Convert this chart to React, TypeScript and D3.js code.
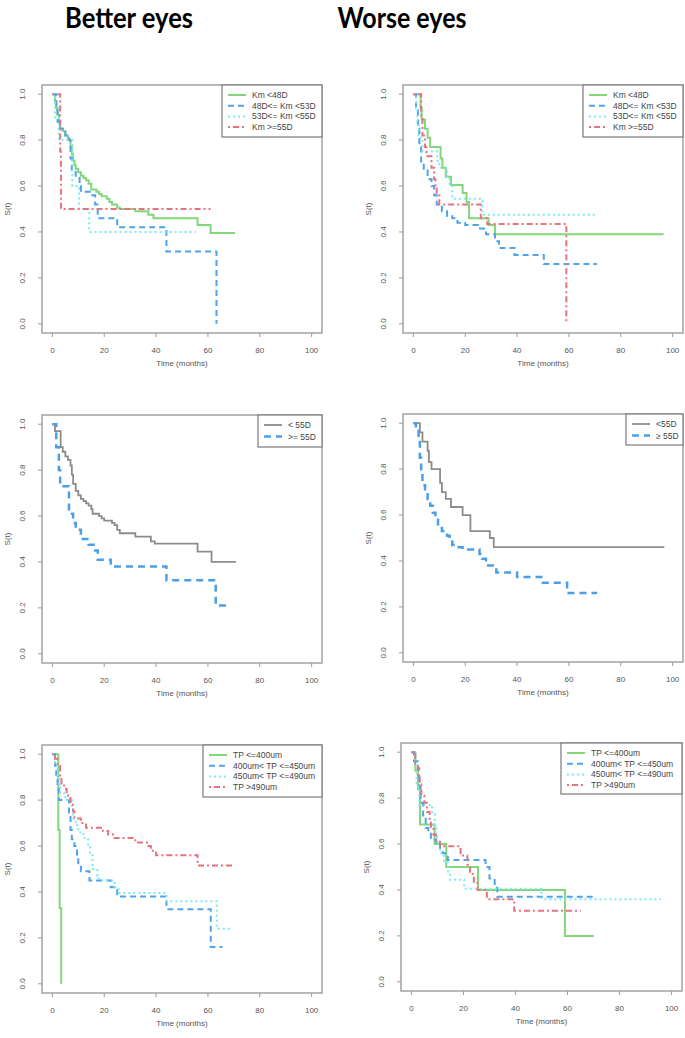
import React from "react";
import * as d3 from "d3";

type Pt = [number, number];

// step points [month, S(t)], last point = end of follow-up
// Better eyes, Km groups
const betterKmLt48: Pt[] = [[0,1],[1,0.97],[1.5,0.94],[2,0.91],[2.5,0.88],[3,0.85],[4,0.84],[5,0.82],[6,0.8],[7,0.77],[7.5,0.74],[8,0.71],[8.5,0.69],[9,0.675],[10,0.66],[11,0.645],[12,0.635],[13,0.625],[14,0.61],[15,0.585],[17,0.575],[18,0.565],[19,0.555],[21,0.545],[22,0.53],[23,0.52],[25,0.505],[26,0.5],[32,0.49],[37,0.475],[39,0.46],[56,0.43],[61,0.395],[70.5,0.395]];
const betterKm48to53: Pt[] = [[0,1],[1.5,0.93],[2,0.88],[3,0.85],[5,0.82],[6.5,0.8],[7,0.72],[7.5,0.67],[9,0.635],[10.5,0.6],[11,0.575],[15,0.56],[16.5,0.52],[17.5,0.46],[25,0.42],[44,0.315],[63.3,0]];
const betterKm53to55: Pt[] = [[0,1],[1,0.9],[2.5,0.8],[7.7,0.6],[10.3,0.5],[14.2,0.4],[55.3,0.4]];
const betterKmGe55: Pt[] = [[0,1],[3,0.75],[3.3,0.5],[61,0.5]];

// Worse eyes, Km groups
const worseKmLt48: Pt[] = [[0,1],[2.8,0.94],[3.2,0.89],[4.5,0.85],[5.5,0.81],[6.5,0.77],[10.5,0.72],[11.2,0.68],[12.5,0.64],[14.5,0.605],[19,0.57],[20.5,0.53],[21.5,0.46],[29,0.43],[31.5,0.39],[96.5,0.39]];
const worseKm48to53: Pt[] = [[0,1],[1,0.93],[1.8,0.85],[2.3,0.78],[3,0.7],[4,0.67],[5.5,0.63],[7,0.6],[8,0.56],[9,0.52],[11,0.49],[13,0.47],[15,0.46],[17,0.44],[20,0.43],[25,0.415],[28,0.39],[31.5,0.36],[33,0.33],[39,0.3],[50.3,0.26],[70.8,0.26]];
const worseKm53to55: Pt[] = [[0,1],[1,0.94],[1.5,0.88],[2,0.81],[3.5,0.75],[9.2,0.71],[10,0.68],[13,0.64],[14,0.6],[15,0.545],[26.6,0.475],[70.2,0.475]];
const worseKmGe55: Pt[] = [[0,1],[3,0.9],[3.5,0.82],[4.5,0.77],[5,0.73],[7,0.68],[8,0.63],[8.5,0.59],[9,0.56],[10,0.52],[26,0.46],[28.5,0.435],[59,0]];

// 55D split
const betterLt55: Pt[] = [[0,1],[1,0.97],[3.2,0.9],[4,0.88],[5,0.86],[6,0.845],[7,0.82],[7.5,0.78],[8,0.74],[9,0.71],[10,0.69],[11,0.675],[12,0.665],[13,0.655],[14,0.645],[15,0.63],[15.5,0.61],[18,0.6],[19,0.59],[20,0.58],[23,0.57],[24,0.56],[25,0.54],[26,0.525],[32,0.51],[38,0.49],[39.5,0.48],[56,0.445],[61.4,0.4],[70.8,0.4]];
const betterGe55: Pt[] = [[0,1],[1.5,0.9],[2.5,0.8],[3,0.73],[6.4,0.61],[8,0.57],[9,0.54],[11,0.5],[14,0.475],[16.5,0.45],[17.5,0.41],[22.5,0.38],[44,0.32],[63,0.21],[67.6,0.21]];
const worseLt55: Pt[] = [[0,1],[2.5,0.96],[3.5,0.92],[5.5,0.88],[6,0.83],[7,0.8],[10.3,0.74],[11,0.7],[12.5,0.67],[14.5,0.635],[19,0.6],[22,0.53],[29.5,0.5],[31,0.46],[96.8,0.46]];
const worseGe55: Pt[] = [[0,1],[1,0.97],[2,0.93],[2.5,0.85],[3,0.78],[3.5,0.73],[4.5,0.7],[5.5,0.67],[6.5,0.64],[7.5,0.61],[8.5,0.58],[9.5,0.55],[11,0.53],[13,0.51],[14,0.49],[15,0.47],[17.5,0.46],[19,0.45],[25.5,0.43],[26.5,0.41],[28,0.38],[32,0.35],[40,0.33],[50,0.305],[59.3,0.26],[70.9,0.26]];

// Thinnest pachymetry groups
const betterTp400: Pt[] = [[0,1],[2.3,0.67],[2.8,0.33],[3.4,0]];
const betterTp450: Pt[] = [[0,1],[1,0.95],[1.5,0.9],[2,0.85],[2.5,0.8],[6.4,0.74],[7,0.67],[7.5,0.63],[8.5,0.6],[9.5,0.55],[10,0.52],[11,0.49],[14.3,0.45],[22.5,0.42],[25,0.38],[44,0.325],[61.1,0.16],[65.6,0.16]];
const betterTp490: Pt[] = [[0,1],[1,0.95],[2,0.9],[2.5,0.86],[3,0.83],[5,0.8],[7.5,0.76],[8,0.72],[9,0.69],[10,0.66],[12,0.635],[13.8,0.6],[14.5,0.56],[15.5,0.5],[17.4,0.47],[18,0.45],[24,0.42],[25.5,0.395],[44,0.36],[63.4,0.24],[69.1,0.24]];
const betterTpGt490: Pt[] = [[0,1],[1,0.98],[2,0.95],[3,0.9],[3.5,0.87],[4.5,0.85],[5.5,0.82],[7,0.78],[8,0.75],[8.5,0.72],[11,0.7],[13,0.68],[19.5,0.665],[21.5,0.65],[24,0.635],[32,0.615],[37,0.6],[38,0.58],[40,0.56],[56,0.515],[70.1,0.515]];
const worseTp400: Pt[] = [[0,1],[1.5,0.92],[2.5,0.84],[3.3,0.685],[8.9,0.6],[13.4,0.5],[25.6,0.4],[59,0.2],[70.2,0.2]];
const worseTp450: Pt[] = [[0,1],[1,0.96],[2.5,0.93],[3,0.85],[3.5,0.78],[4.5,0.72],[5.5,0.67],[6.5,0.65],[7.5,0.62],[9.5,0.6],[11,0.57],[12,0.56],[14,0.53],[28.5,0.5],[30,0.45],[32,0.41],[33,0.37],[70.9,0.37]];
const worseTp490: Pt[] = [[0,1],[1.5,0.93],[2,0.85],[3,0.77],[8,0.73],[9,0.68],[9.5,0.63],[10,0.6],[11,0.56],[12.5,0.52],[14,0.48],[14.8,0.445],[20.3,0.405],[50,0.36],[95.9,0.36]];
const worseTpGt490: Pt[] = [[0,1],[1.5,0.95],[2.5,0.9],[3.2,0.86],[3.8,0.81],[5,0.78],[6,0.74],[7,0.71],[7.5,0.67],[8.5,0.64],[9.5,0.61],[11,0.59],[18.9,0.55],[21.5,0.51],[22.5,0.47],[24,0.43],[25.5,0.4],[29,0.36],[39.5,0.31],[65.1,0.31]];

const kmLabels = ["Km <48D", "48D<= Km <53D", "53D<= Km <55D", "Km >=55D"];
const betterSplitLabels = ["< 55D", ">= 55D"];
const worseSplitLabels = ["<55D", "\u2265 55D"];
const tpLabels = ["TP <=400um", "400um< TP <=450um", "450um< TP <=490um", "TP >490um"];
const xTicks = [0, 20, 40, 60, 80, 100];
const yTicks = [0, 0.2, 0.4, 0.6, 0.8, 1];
const titles = ["Better eyes", "Worse eyes"];

const lineStyles: Record<string, { stroke: string; width: number; dash?: string }> = {
  green: { stroke: "#84d67a", width: 2 },
  blue: { stroke: "#4fa3ec", width: 2, dash: "6,4" },
  cyan: { stroke: "#7ceaf0", width: 2, dash: "2,3" },
  red: { stroke: "#e57480", width: 2, dash: "2,3,6,3" },
  grey: { stroke: "#8c8c8c", width: 1.8 },
  blueWide: { stroke: "#4a9fe8", width: 2.5, dash: "7,5" },
};

const panels = [
  { x0: 42, x1: 322, y0: 85, y1: 333, curves: [betterKmLt48, betterKm48to53, betterKm53to55, betterKmGe55], kinds: ["green", "blue", "cyan", "red"], labels: kmLabels, legW: 100, legH: 52 },
  { x0: 403, x1: 683, y0: 85, y1: 333, curves: [worseKmLt48, worseKm48to53, worseKm53to55, worseKmGe55], kinds: ["green", "blue", "cyan", "red"], labels: kmLabels, legW: 100, legH: 52 },
  { x0: 42, x1: 322, y0: 415, y1: 663, curves: [betterLt55, betterGe55], kinds: ["grey", "blueWide"], labels: betterSplitLabels, legW: 64, legH: 32 },
  { x0: 403, x1: 683, y0: 414, y1: 662, curves: [worseLt55, worseGe55], kinds: ["grey", "blueWide"], labels: worseSplitLabels, legW: 57, legH: 31 },
  { x0: 42, x1: 322, y0: 745, y1: 993, curves: [betterTp400, betterTp450, betterTp490, betterTpGt490], kinds: ["green", "blue", "cyan", "red"], labels: tpLabels, legW: 119, legH: 52 },
  { x0: 401, x1: 682, y0: 743, y1: 991, curves: [worseTp400, worseTp450, worseTp490, worseTpGt490], kinds: ["green", "blue", "cyan", "red"], labels: tpLabels, legW: 121, legH: 51 },
];

const fontSans = "'Liberation Sans', Arial, sans-serif";
const fmt = d3.format(".1f");

function Panel({ p }: { p: (typeof panels)[number] }) {
  // R pads the data range by 4% on each side
  const x = d3.scaleLinear().domain([-4, 104]).range([p.x0, p.x1]);
  const y = d3.scaleLinear().domain([-0.04, 1.04]).range([p.y1, p.y0]);
  const line = d3
    .line<Pt>()
    .x((d) => x(d[0]))
    .y((d) => y(d[1]))
    .curve(d3.curveStepAfter);
  const lx = p.x1 - p.legW;
  const rowGap = p.labels.length > 2 ? 10.7 : 11.5;

  return (
    <g>
      <rect x={p.x0} y={p.y0} width={p.x1 - p.x0} height={p.y1 - p.y0} fill="none" stroke="#9c9c9c" strokeWidth={1.4} />
      {p.curves.map((c, i) => {
        const st = lineStyles[p.kinds[i]];
        return (
          <path key={i} d={line(c) ?? ""} fill="none" stroke={st.stroke} strokeWidth={st.width} strokeDasharray={st.dash} />
        );
      })}
      {xTicks.map((t) => (
        <g key={"x" + t}>
          <line x1={x(t)} x2={x(t)} y1={p.y1} y2={p.y1 + 4} stroke="#9c9c9c" strokeWidth={1} />
          <text x={x(t)} y={p.y1 + 20} textAnchor="middle" fontSize={8} fill="#555" fontFamily={fontSans}>{t}</text>
        </g>
      ))}
      {yTicks.map((t) => (
        <g key={"y" + t}>
          <line x1={p.x0 - 4} x2={p.x0} y1={y(t)} y2={y(t)} stroke="#9c9c9c" strokeWidth={1} />
          <text transform={`translate(${p.x0 - 20},${y(t)}) rotate(-90)`} textAnchor="middle" dominantBaseline="central" fontSize={8} fill="#555" fontFamily={fontSans}>{fmt(t)}</text>
        </g>
      ))}
      <text x={(p.x0 + p.x1) / 2} y={p.y1 + 33} textAnchor="middle" fontSize={8} fill="#555" fontFamily={fontSans}>Time (months)</text>
      <text transform={`translate(${p.x0 - 35},${(p.y0 + p.y1) / 2}) rotate(-90)`} textAnchor="middle" dominantBaseline="central" fontSize={8} fill="#555" fontFamily={fontSans}>S(t)</text>
      <rect x={lx} y={p.y0} width={p.legW} height={p.legH} fill="#fff" stroke="#7a7a7a" strokeWidth={1.2} />
      {p.labels.map((lab, i) => {
        const st = lineStyles[p.kinds[i]];
        const cy = p.y0 + 10 + i * rowGap;
        return (
          <g key={lab}>
            <line x1={lx + 6} x2={lx + 24} y1={cy} y2={cy} stroke={st.stroke} strokeWidth={st.width} strokeDasharray={st.dash} />
            <text x={lx + 30} y={cy} dominantBaseline="central" fontSize={8.5} fill="#444" fontFamily={fontSans}>{lab}</text>
          </g>
        );
      })}
    </g>
  );
}

export default function App() {
  const W = 685;
  const H = 1038;
  return (
    <svg width={W} height={H} style={{ position: "absolute", left: 0, top: 0, background: "#fff" }}>
      <rect width={W} height={H} fill="#fff" />
      <text x={129} y={28} textAnchor="middle" fontSize={28} fontWeight="bold" fontFamily="Lato, 'Open Sans', sans-serif" textLength={128} lengthAdjust="spacingAndGlyphs">{titles[0]}</text>
      <text x={402} y={28} textAnchor="middle" fontSize={28} fontWeight="bold" fontFamily="Lato, 'Open Sans', sans-serif" textLength={129} lengthAdjust="spacingAndGlyphs">{titles[1]}</text>
      {panels.map((p, i) => (
        <Panel key={i} p={p} />
      ))}
    </svg>
  );
}
